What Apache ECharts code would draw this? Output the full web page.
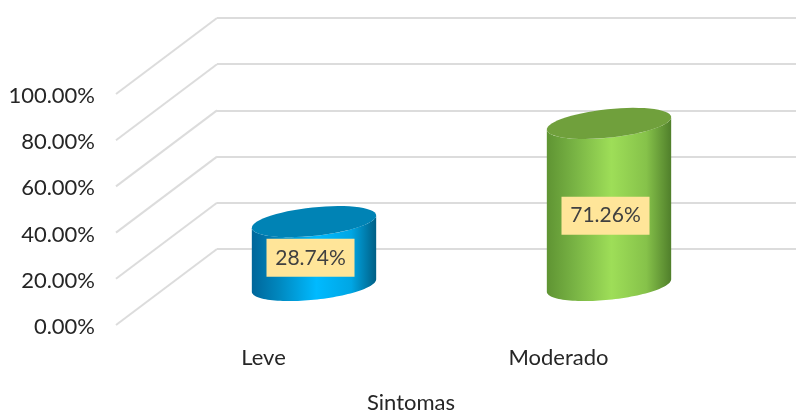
<!DOCTYPE html>
<html><head><meta charset="utf-8">
<style>html,body{margin:0;padding:0;background:#fff}#c{width:796px;height:412px}</style>
<script src="https://cdn.jsdelivr.net/npm/echarts@6/dist/echarts.min.js"></script>
</head><body><div id="c"></div>
<script>
const categories = ['Leve', 'Moderado'];
const values = [28.74, 71.26];
const yTicks = [0, 20, 40, 60, 80, 100];
const axisTitle = 'Sintomas';
const palettes = [
  {top:'#0083b5', stops:['#00669a','#0088bf','#00baff','#00a6e4','#005f85']},
  {top:'#70a03c', stops:['#5f9433','#78b344','#9ede58','#86c24a','#507f2b']}
];
const chart = echarts.init(document.getElementById('c'), null, {renderer:'canvas'});
const FONT = 'Lato, Carlito, sans-serif';
const TXT = '#404040', AXTXT = '#262626', LINE = '#dcdcdc';
const G = echarts.graphic;

function cylinder(params, api){
  const i = api.value(0), v = api.value(1);
  const base = api.coord([i, 0]), topP = api.coord([i, v]);
  base[1] -= 1.5; topP[1] += 1; base[0] -= 0.5; topP[0] -= 0.5;
  const a = 62.5, b = 14.2, phi = -6 * Math.PI/180;
  const pt = (c, t) => [c[0] + a*Math.cos(t)*Math.cos(phi) - b*Math.sin(t)*Math.sin(phi),
                        c[1] + a*Math.cos(t)*Math.sin(phi) + b*Math.sin(t)*Math.cos(phi)];
  const t0 = Math.atan2(-b*Math.sin(phi), a*Math.cos(phi));
  const arc = (c, from, to) => { const r=[]; for(let k=0;k<=60;k++){ r.push(pt(c, from+(to-from)*k/60)); } return r; };
  const body = arc(base, t0, t0+Math.PI).concat(arc(topP, t0+Math.PI, t0));
  const ell = arc(topP, 0, 2*Math.PI);
  const pal = palettes[i];
  const grad = new G.LinearGradient(0,0,1,0,[
    {offset:0,color:pal.stops[0]},{offset:.22,color:pal.stops[1]},{offset:.52,color:pal.stops[2]},
    {offset:.8,color:pal.stops[3]},{offset:1,color:pal.stops[4]}]);
  return {type:'group', children:[
    {type:'polygon', shape:{points:body}, style:{fill:grad}},
    {type:'polygon', shape:{points:ell}, style:{fill:pal.top}}
  ]};
}
function diagonal(params, api){
  const f = api.coord([0, api.value(0)]);
  const x1 = params.coordSys.x, y1 = f[1] - 2;
  return {type:'line', shape:{x1:x1, y1:y1, x2:x1+101, y2:y1-76},
          style:{stroke:LINE, lineWidth:2}};
}
const yBase = {type:'value', min:0, max:100, interval:20};
chart.setOption({
  animation:false,
  backgroundColor:'#fff',
  grid:[
    {left:116, top:96, width:590, height:231, outerBoundsMode:'none'},
    {left:217, top:18, width:579, height:231, outerBoundsMode:'none'},
    {left:167, top:56, width:590, height:231, outerBoundsMode:'none'}
  ],
  xAxis:[
    {gridIndex:0, type:'category', data:categories, axisLine:{show:false}, axisTick:{show:false},
     axisLabel:{fontFamily:FONT, fontSize:22, color:AXTXT, margin:20},
     name:axisTitle, nameLocation:'middle', nameGap:65, nameTextStyle:{fontFamily:FONT,fontSize:22,color:AXTXT}},
    {gridIndex:1, type:'category', data:categories, show:false},
    {gridIndex:2, type:'category', data:categories, show:false}
  ],
  yAxis:[
    Object.assign({gridIndex:0}, yBase, {axisLine:{show:false}, axisTick:{show:false}, splitLine:{show:false},
      axisLabel:{fontFamily:FONT, fontSize:22, color:AXTXT, margin:21, formatter:v=>v.toFixed(2)+'%'}}),
    Object.assign({gridIndex:1}, yBase, {axisLine:{show:false}, axisTick:{show:false}, axisLabel:{show:false},
      splitLine:{show:true, lineStyle:{color:LINE, width:2}}}),
    Object.assign({gridIndex:2}, yBase, {show:false})
  ],
  series:[
    {type:'custom', xAxisIndex:0, yAxisIndex:0, data:yTicks.map(t=>[t]), encode:{y:0}, renderItem:diagonal, silent:true, z:1},
    {type:'custom', xAxisIndex:2, yAxisIndex:2, data:values.map((v,i)=>[i,v]), encode:{x:0,y:1}, renderItem:cylinder, silent:true, z:2},
    {type:'scatter', xAxisIndex:2, yAxisIndex:2, data:values.map((v,i)=>[i,v/2]), symbolSize:0, silent:true, z:3,
      itemStyle:{opacity:1},
      label:{show:true, position:'inside', fontFamily:FONT, fontSize:21, color:TXT, backgroundColor:'#ffe599', opacity:1,
        width:88, height:38, lineHeight:38, align:'center', verticalAlign:'middle',
        formatter:p=>values[p.dataIndex].toFixed(2)+'%'},
      labelLayout:p=>({dx:-4, dy:p.dataIndex===0?4:11})}
  ]
});
</script></body></html>
